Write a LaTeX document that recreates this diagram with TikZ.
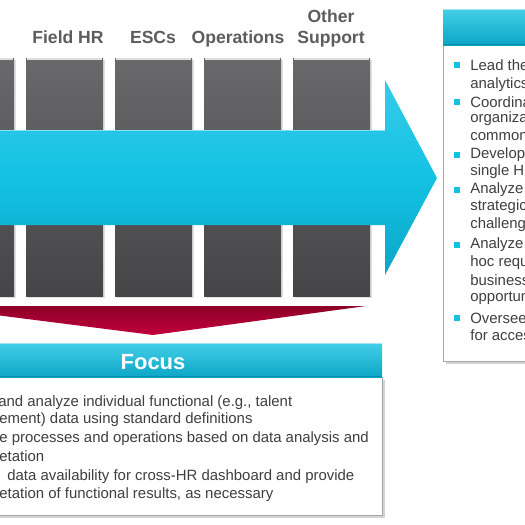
\documentclass[tikz,border=0pt]{standalone}
\usepackage{fontspec}
\setmainfont{Liberation Sans}
\usetikzlibrary{shadows}

\definecolor{hrcyan}{HTML}{13C2E3}
\definecolor{hrcyandark}{HTML}{0CA6C6}
\definecolor{hrcyanedge}{HTML}{0A8CA8}
\definecolor{hrgraytop}{HTML}{69696B}
\definecolor{hrgraybot}{HTML}{454547}
\definecolor{hrredtop}{HTML}{8C0027}
\definecolor{hrredbot}{HTML}{C4003D}
\definecolor{hrlabel}{HTML}{5C5C5C}
\definecolor{hrtext}{HTML}{3F3F3F}

\begin{document}
\begin{tikzpicture}[
x=0.02cm, y=-0.02cm, % 1 unit = 1 pixel of the slide
colbox/.style={top color=hrgraytop, bottom color=hrgraybot, drop shadow={opacity=0.25, shadow xshift=1pt, shadow yshift=-1pt}},
collabel/.style={text=hrlabel, font=\fontsize{10}{11.5}\selectfont\bfseries, align=center, anchor=base},
header/.style={top color=hrcyan!80!white, bottom color=hrcyandark},
panel/.style={draw=gray!70, fill=white, drop shadow={opacity=0.35, shadow xshift=1.5pt, shadow yshift=-1.5pt}},
line/.style={text=hrtext, font=\fontsize{8.5}{10}\selectfont, anchor=west, inner sep=0pt},
bullet/.style={fill=hrcyan, minimum size=3.5pt, inner sep=0pt}
]

\useasboundingbox (0,0) rectangle (525,525);
\clip (0,0) rectangle (525,525);

% --- Column labels ---
\node[collabel] (fieldhr) at (68,43) {Field HR};
\node[collabel] (escs) at (153,43) {ESCs};
\node[collabel] (ops) at (238,43) {Operations};
\node[collabel] (other) at (331,22) {Other};
\node[collabel] (support) at (331,43) {Support};

% --- Gray columns ---
\foreach \i in {0,...,4} {
  \pgfmathsetmacro\xl{-63+89*\i}
  \shade[colbox] (\xl,58) rectangle ++(77,238);
  \draw[white!75!gray, line width=1pt] (\xl+1,58.8) -- ++(75,0);
}

% --- Cyan arrow ---
\coordinate (headtop) at (385,80);
\coordinate (tip) at (437,178);
\coordinate (headbot) at (385,275);
\shade[top color=hrcyan!85!white, bottom color=hrcyandark, middle color=hrcyan]
  (-10,130) -- (385,130) -- (headtop) -- (tip) -- (headbot) -- (385,225) -- (-10,225) -- cycle;
\draw[hrcyan!50!white, line width=1pt] (-10,130.5) -- (385,130.5);

% --- Red chevron ---
\coordinate (chevl) at (-75,306);
\coordinate (chevr) at (366,306);
\coordinate (chevtip) at (153,335);
\shade[top color=hrredtop, bottom color=hrredbot] (chevl) -- (chevr) -- (chevtip) -- cycle;

% --- Focus panel ---
\draw[panel] (-10,377) rectangle (382,515);
\shade[header] (-10,343) rectangle (382,377);
\draw[hrcyanedge, line width=1pt] (-10,376.5) -- (382,376.5);
\draw[hrcyan!40!white, line width=0.8pt] (-10,343.5) -- (382,343.5);
\node[text=white, font=\fontsize{12.5}{14}\selectfont\bfseries] (focus) at (153,362) {Focus};

\node[line] (f1) at (-2,403) {and analyze individual functional (e.g., talent};
\node[line] (f2) at (-1,420) {ement) data using standard definitions};
\node[line] (f3) at (-1,439) {e processes and operations based on data analysis and};
\node[line] (f4) at (-1,456) {etation};
\node[line] (f5) at (7,477) {data availability for cross-HR dashboard and provide};
\node[line] (f6) at (-1,495) {etation of functional results, as necessary};

% --- Right panel ---
\draw[panel] (443,45) rectangle (545,361);
\shade[header] (443,9) rectangle (545,45);
\draw[hrcyanedge, line width=1pt] (443,44.5) -- (545,44.5);
\draw[hrcyan!40!white, line width=0.8pt] (443,9.5) -- (545,9.5);

\foreach \y/\t in {65/Lead the, 85/analytics, 102/Coordina, 119/organiza, 137/common,
                   155/Develop, 172/single H, 190/Analyze, 207/strategic, 225/challeng,
                   245/Analyze, 263/hoc requ, 280/business, 298/opportun, 318/Oversee, 335/for acces} {
  \node[line] (r\y) at (470,\y) {\t};
}
\foreach \y in {65,102,155,190,245,318} {
  \node[bullet] (b\y) at (457,\y) {};
}

\end{tikzpicture}
\end{document}
